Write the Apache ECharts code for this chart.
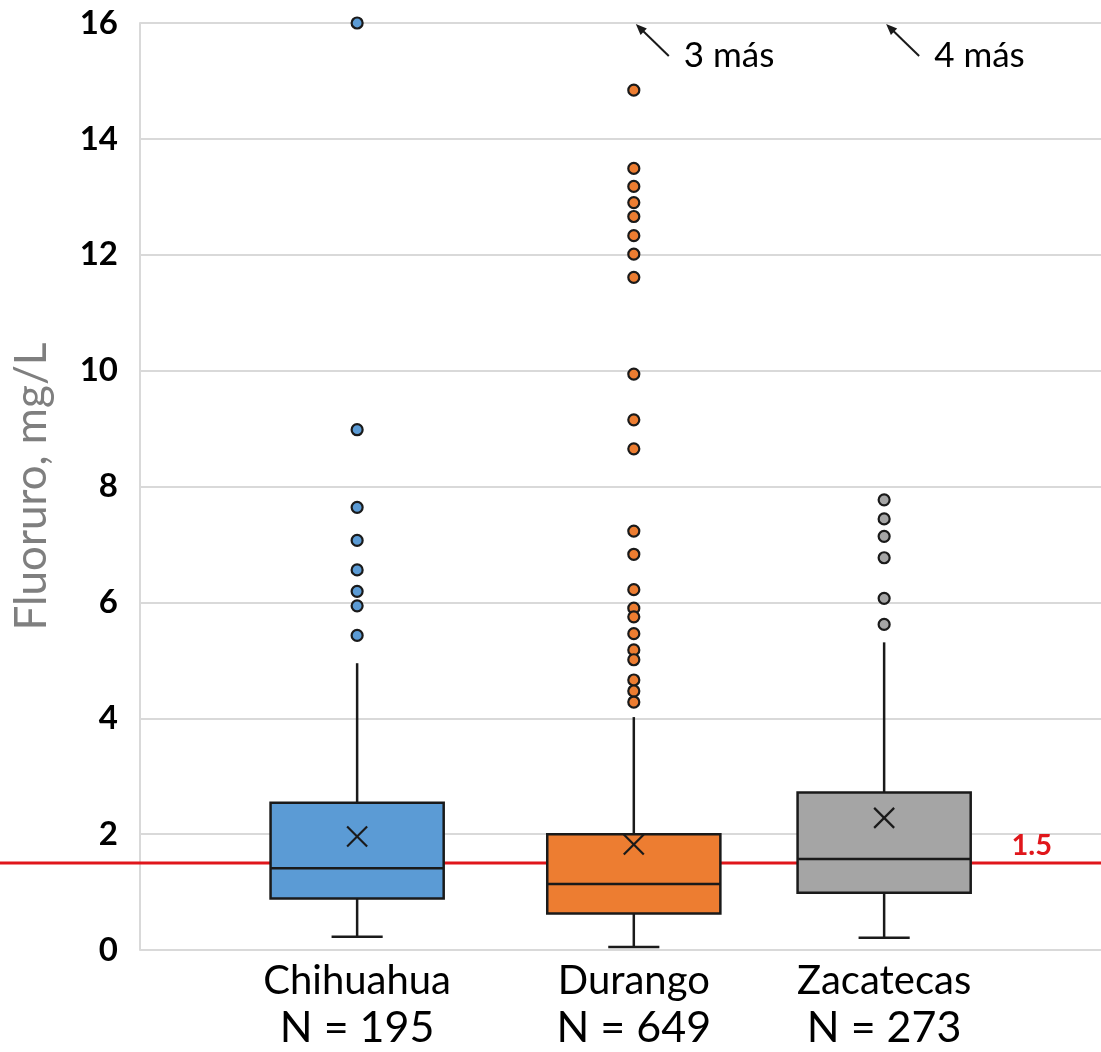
<!DOCTYPE html>
<html>
<head>
<meta charset="utf-8">
<script src="https://cdn.jsdelivr.net/npm/echarts@6/dist/echarts.min.js"></script>
<style>
  html, body { margin: 0; padding: 0; background: #fff; }
  #chart { width: 1101px; height: 1052px; }
</style>
</head>
<body>
<div id="chart"></div>
<script>
// datos
const categories = ['Chihuahua', 'Durango', 'Zacatecas'];
const sampleN = [195, 649, 273];
const xPositions = [1, 2.05, 3];
const whiskerLow = [0.23, 0.05, 0.21];
const q1 = [0.89, 0.63, 0.99];
const median = [1.41, 1.14, 1.57];
const q3 = [2.54, 2.00, 2.72];
const whiskerHigh = [4.95, 4.02, 5.31];
const means = [1.96, 1.82, 2.28];
const extraAbove = [0, 3, 4];
const outliersChihuahua = [16.0, 8.98, 7.64, 7.07, 6.56, 6.19, 5.94, 5.43];
const outliersDurango = [14.84, 13.49, 13.18, 12.90, 12.66, 12.33, 12.01, 11.61, 9.94, 9.15, 8.65,
  7.23, 6.83, 6.22, 5.90, 5.75, 5.46, 5.18, 5.01, 4.66, 4.47, 4.28];
const outliersZacatecas = [7.77, 7.44, 7.14, 6.77, 6.07, 5.62];
const threshold = 1.5;
const yMin = 0, yMax = 16, yStep = 2;

const colors = ['#5b9bd5', '#ed7d31', '#a5a5a5'];
const outlierLists = [outliersChihuahua, outliersDurango, outliersZacatecas];
const boxWidth = 0.657;
const capWidth = 0.194;
const font = 'Lato';
const ink = '#1a1a1a';
const red = '#e0161b';

const chart = echarts.init(document.getElementById('chart'));

const boxData = categories.map((c, i) => [
  xPositions[i], whiskerLow[i], q1[i], median[i], q3[i], whiskerHigh[i], means[i], extraAbove[i]
]);

const renderBox = (params, api) => {
  const i = params.dataIndex;
  const x = api.value(0);
  const cx = api.coord([x, 0])[0];
  const yOf = (v) => api.coord([x, v])[1];
  const halfW = api.size([boxWidth, 0])[0] / 2;
  const capHalf = api.size([capWidth, 0])[0] / 2;
  const lineStyle = { stroke: ink, lineWidth: 2.5 };
  const yLow = yOf(api.value(1)), yQ1 = yOf(api.value(2)), yMed = yOf(api.value(3));
  const yQ3 = yOf(api.value(4)), yHigh = yOf(api.value(5)), yMean = yOf(api.value(6));
  const extra = api.value(7);
  const children = [
    { type: 'line', shape: { x1: cx, y1: yHigh, x2: cx, y2: yQ3 }, style: lineStyle },
    { type: 'line', shape: { x1: cx, y1: yQ1, x2: cx, y2: yLow }, style: lineStyle },
    { type: 'line', shape: { x1: cx - capHalf, y1: yLow, x2: cx + capHalf, y2: yLow }, style: lineStyle },
    { type: 'rect', shape: { x: cx - halfW, y: yQ3, width: halfW * 2, height: yQ1 - yQ3 },
      style: { fill: colors[i], stroke: ink, lineWidth: 2.5 } },
    { type: 'line', shape: { x1: cx - halfW, y1: yMed, x2: cx + halfW, y2: yMed }, style: lineStyle },
    { type: 'line', shape: { x1: cx - 10, y1: yMean - 10, x2: cx + 10, y2: yMean + 10 }, style: { stroke: ink, lineWidth: 2.2 } },
    { type: 'line', shape: { x1: cx + 10, y1: yMean - 10, x2: cx - 10, y2: yMean + 10 }, style: { stroke: ink, lineWidth: 2.2 } },
    {
      type: 'text', x: cx, y: yOf(0) + 8,
      style: {
        text: '{a|' + categories[i] + '}\n{b|N = ' + sampleN[i] + '}',
        align: 'center', verticalAlign: 'top',
        rich: {
          a: { fontFamily: font, fontSize: 40, lineHeight: 46, fill: '#000' },
          b: { fontFamily: font, fontSize: 43, lineHeight: 48, fill: '#000' }
        }
      }
    }
  ];
  if (extra > 0) {
    const top = yOf(yMax);
    const hx = cx + 2, hy = top + 1;
    const tx = cx + 35, ty = top + 33;
    const ux = (hx - tx) / Math.hypot(hx - tx, hy - ty), uy = (hy - ty) / Math.hypot(hx - tx, hy - ty);
    children.push(
      { type: 'line', shape: { x1: tx, y1: ty, x2: hx - ux * 4, y2: hy - uy * 4 }, style: { stroke: ink, lineWidth: 2 } },
      { type: 'polygon', shape: { points: [
        [hx, hy],
        [hx - ux * 11 - uy * 4.5, hy - uy * 11 + ux * 4.5],
        [hx - ux * 11 + uy * 4.5, hy - uy * 11 - ux * 4.5]
      ] }, style: { fill: ink } },
      { type: 'text', x: cx + 50, y: top + 33,
        style: { text: extra + ' más', fontFamily: font, fontSize: 35, fill: '#000', align: 'left', verticalAlign: 'middle' } }
    );
  }
  return { type: 'group', children: children };
};

const outlierSeries = outlierLists.map((list, i) => ({
  type: 'scatter',
  xAxisIndex: 0,
  yAxisIndex: 0,
  z: 5,
  clip: false,
  symbol: 'circle',
  symbolSize: 11,
  itemStyle: { color: colors[i], borderColor: ink, borderWidth: 2.2, opacity: 1 },
  data: list.map((v) => [xPositions[i], v])
}));

const option = {
  backgroundColor: '#fff',
  animation: false,
  grid: [
    { left: 140, right: 0, top: 23, bottom: 102 },
    { left: 0, right: 0, top: 23, bottom: 102 }
  ],
  xAxis: [
    { type: 'value', gridIndex: 0, min: 0.176, max: 3.823, show: false },
    { type: 'value', gridIndex: 1, min: 0, max: 1, show: false }
  ],
  yAxis: [
    {
      type: 'value', gridIndex: 0, min: yMin, max: yMax, interval: yStep,
      name: 'Fluoruro, mg/L', nameLocation: 'middle', nameGap: 86,
      nameTextStyle: { fontFamily: font, fontSize: 44, color: '#7f7f7f' },
      axisLine: { show: true, lineStyle: { color: '#d9d9d9', width: 2 } },
      axisTick: { show: false },
      axisLabel: { fontFamily: font, fontSize: 33, fontWeight: 'bold', color: '#000', margin: 22 },
      splitLine: { lineStyle: { color: '#d9d9d9', width: 2 } }
    },
    { type: 'value', gridIndex: 1, min: yMin, max: yMax, show: false }
  ],
  series: [
    {
      type: 'line',
      xAxisIndex: 1,
      yAxisIndex: 1,
      z: 1,
      symbol: 'none',
      lineStyle: { color: red, width: 3 },
      data: [[0, threshold], [1, threshold]],
      markLine: {
        silent: true,
        symbol: 'none',
        lineStyle: { color: 'rgba(0,0,0,0)', width: 0, type: 'solid' },
        data: [{ yAxis: threshold }],
        label: {
          show: true, position: 'insideEndTop', formatter: String(threshold),
          distance: [49, 3],
          fontFamily: font, fontSize: 29, fontWeight: 'bold', color: red
        }
      }
    },
    {
      type: 'custom',
      xAxisIndex: 0,
      yAxisIndex: 0,
      z: 3,
      clip: false,
      renderItem: renderBox,
      encode: { x: 0, y: [1, 2, 3, 4, 5] },
      data: boxData
    },
    ...outlierSeries
  ]
};

chart.setOption(option);
window.addEventListener('resize', () => chart.resize());
</script>
</body>
</html>
